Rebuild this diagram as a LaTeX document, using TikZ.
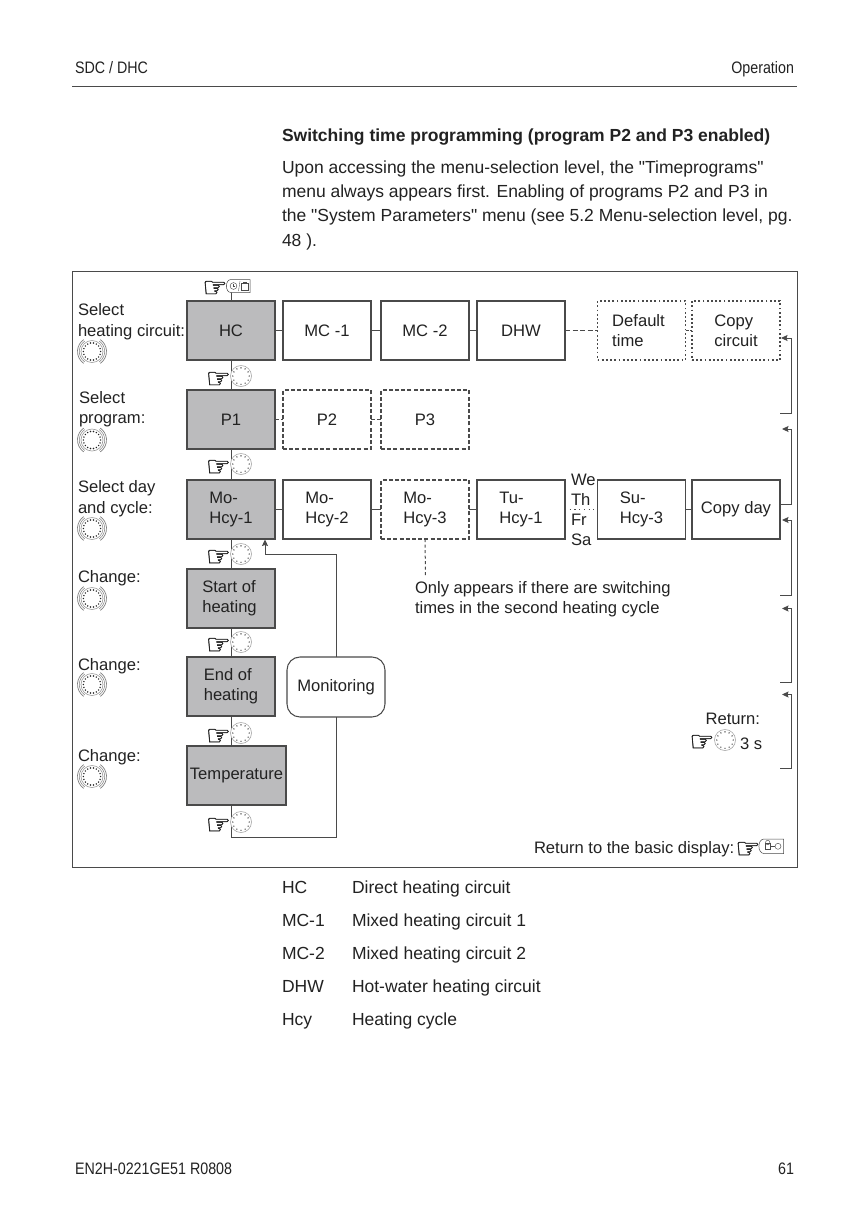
\documentclass[tikz,border=0pt]{standalone}
\usepackage{fontspec}
\setmainfont{Liberation Sans}
\newfontfamily\plainf{Liberation Sans}
\newcommand{\qq}{{\plainf"}}
\newfontfamily\narrowf[FakeStretch=0.86]{Liberation Sans}
\newfontfamily\handf[FakeBold=1.2]{DejaVu Sans}
\usetikzlibrary{arrows.meta}
\definecolor{ink}{HTML}{222222}
\definecolor{lin}{HTML}{4A4A4A}
\definecolor{boxgrey}{HTML}{BBBBBD}
\tikzset{
  base/.style={font=\fontsize{16.6}{20}\selectfont,text=ink,inner sep=0pt,outer sep=0pt},
  txt/.style={base,anchor=base west},
  body/.style={txt,font=\fontsize{17.5}{24}\selectfont},
  head/.style={txt,font=\narrowf\fontsize{16.6}{20}\selectfont},
  menubox/.style={base,draw=lin,line width=1.05pt,fill=white,minimum width=88pt,minimum height=59pt,align=left},
  greybox/.style={menubox,fill=boxgrey},
  dashbox/.style={menubox,dash pattern=on 4pt off 2.2pt},
  dotbox/.style={menubox,dash pattern=on 1.8pt off 2.4pt},
  link/.style={draw=lin,line width=1pt},
  back/.style={draw=lin,line width=1pt,-{Stealth[length=6.5pt,width=6pt,inset=1pt]}},
  handmark/.style={inner sep=0pt,outer sep=0pt,fill=white,text=ink,font=\handf\fontsize{28}{28}\selectfont},
  dialknob/.pic={
    \fill[white] (0,0) circle (10.5);
    \draw[gray!70,line width=.6pt] (0,0) circle (10.5);
    \foreach \a in {0,30,...,330} \fill[ink] (\a:8.2) circle (.7);
  },
  sideknob/.pic={
    \draw[gray!80,line width=.6pt] (0,0) circle (11);
    \foreach \a in {0,20,...,340} \fill[ink] (\a:8.6) circle (.8);
    \draw[gray,line width=.7pt] (125:14.5) arc (125:235:14.5);
    \draw[gray,line width=.7pt] (55:14.5) arc (55:-55:14.5);
    \draw[gray,line width=.5pt] (125:12.7) arc (125:235:12.7);
    \draw[gray,line width=.5pt] (55:12.7) arc (55:-55:12.7);
  },
}
\begin{document}
\begin{tikzpicture}[x=1pt,y=-1pt]
\useasboundingbox (0,0) rectangle (868,1227);
\fill[white] (0,0) rectangle (868,1227);
% page head / foot
\node[head] (h1) at (75,73) {SDC / DHC};
\node[head,anchor=base east] (h2) at (794,73) {Operation};
\coordinate (ruleL) at (72,86.5); \coordinate (ruleR) at (797,86.5);
\draw[draw=lin,line width=.8pt] (ruleL) -- (ruleR);
\node[head] (f1) at (75,1174) {EN2H-0221GE51 R0808};
\node[head,anchor=base east] (f2) at (794,1174) {61};
% intro
\node[body,font=\bfseries\fontsize{17.5}{24}\selectfont] (title) at (282,141) {Switching time programming (program P2 and P3 enabled)};
\node[body] (p1) at (282,173) {Upon accessing the menu-selection level, the \qq Timeprograms\qq};
\node[body] (p2) at (282,197) {menu always appears first. Enabling of programs P2 and P3 in};
\node[body] (p3) at (282,221) {the \qq System Parameters\qq\ menu (see 5.2 Menu-selection level, pg.};
\node[body] (p4) at (282,246) {48 ).};
% frame
\draw[draw=lin,line width=1pt] (72,271.5) rectangle (797,867.5);
% row 1
\node[greybox] (HC) at (231,330.5) {HC};
\node[menubox] (MC1) at (327,330.5) {MC -1};
\node[menubox] (MC2) at (425,330.5) {MC -2};
\node[menubox] (DHW) at (521,330.5) {DHW};
\node[dotbox] (DT) at (641.5,330.5) {\hspace*{-6pt}Default\\\hspace*{-6pt}time};
\node[dotbox] (CC) at (736,330.5) {Copy\\circuit};
% row 2
\node[greybox] (P1) at (231,419.5) {P1};
\node[dashbox] (P2) at (327,419.5) {P2};
\node[dashbox] (P3) at (425,419.5) {P3};
% row 3
\node[greybox] (M1) at (231,509.5) {Mo-\\Hcy-1};
\node[menubox] (M2) at (327,509.5) {Mo-\\Hcy-2};
\node[dashbox] (M3) at (425,509.5) {Mo-\\Hcy-3};
\node[menubox] (T1) at (521,509.5) {Tu-\\Hcy-1};
\node[menubox] (S3) at (641.5,509.5) {Su-\\Hcy-3};
\node[menubox] (CD) at (736,509.5) {Copy day};
% column
\node[greybox] (SH) at (231,598.5) {\hspace*{-3pt}Start of\\\hspace*{-3pt}heating};
\node[greybox] (EH) at (231,686.5) {End of\\heating};
\node[greybox,minimum width=99pt] (TE) at (236.5,775.5) {Temperature};
\node[menubox,rounded corners=13pt,minimum width=98pt,minimum height=60pt] (MON) at (336,687) {Monitoring};
% coordinates
\coordinate (top) at (231,290);
\coordinate (loop1) at (231,837); \coordinate (loop2) at (336,837);
\coordinate (mon1) at (336,554); \coordinate (mon2) at (265,554); \coordinate (mon3) at (265,539.5);
\coordinate (note) at (425.5,576);
\coordinate (teN) at (231,746); \coordinate (teS) at (231,805);
% connectors
\draw[link] (top) -- (HC.north);
\draw[link] (HC.south) -- (P1.north);
\draw[link] (P1.south) -- (M1.north);
\draw[link] (M1.south) -- (SH.north);
\draw[link] (SH.south) -- (EH.north);
\draw[link] (EH.south) -- (teN);
\draw[link] (teS) -- (loop1) -- (loop2) -- (MON.south);
\draw[back] (MON.north) -- (mon1) -- (mon2) -- (mon3);
\draw[link] (HC.east) -- (MC1.west);
\draw[link] (MC1.east) -- (MC2.west);
\draw[link] (MC2.east) -- (DHW.west);
\draw[link,line width=1.2pt,dash pattern=on 5pt off 2.5pt] (DHW.east) -- (DT.west);
\draw[link,dash pattern=on 3pt off 1.5pt] (DT.east) -- (CC.west);
\draw[link,dash pattern=on 4pt off 2pt] (P1.east) -- (P2.west);
\draw[link,dash pattern=on 4pt off 2pt] (P2.east) -- (P3.west);
\draw[link] (M1.east) -- (M2.west);
\draw[link] (M2.east) -- (M3.west);
\draw[link] (M3.east) -- (T1.west);
\draw[link,dash pattern=on 1.2pt off 3.5pt] (T1.east) -- (S3.west);
\draw[link] (S3.east) -- (CD.west);
\draw[link,dash pattern=on 3pt off 2.5pt] (M3.south) -- (note);
% return brackets
\coordinate (a1) at (780,413); \coordinate (a2) at (791,413); \coordinate (a3) at (791,338); \coordinate (a4) at (781,338);
\coordinate (b1) at (780,504); \coordinate (b2) at (791,504); \coordinate (b3) at (791,429); \coordinate (b4) at (782,429);
\coordinate (c1) at (780,595); \coordinate (c2) at (791,595); \coordinate (c3) at (791,520); \coordinate (c4) at (782,520);
\coordinate (d1) at (780,682); \coordinate (d2) at (791,682); \coordinate (d3) at (791,608.5); \coordinate (d4) at (782,608.5);
\coordinate (e1) at (780,768); \coordinate (e2) at (791,768); \coordinate (e3) at (791,694.5); \coordinate (e4) at (782,694.5);
\draw[back] (a1) -- (a2) -- (a3) -- (a4);
\draw[back] (b1) -- (b2) -- (b3) -- (b4);
\draw[back] (c1) -- (c2) -- (c3) -- (c4);
\draw[back] (d1) -- (d2) -- (d3) -- (d4);
\draw[back] (e1) -- (e2) -- (e3) -- (e4);
% weekdays
\node[txt] (we) at (571,485) {We};
\node[txt] (th) at (571,505) {Th};
\node[txt] (fr) at (571,525) {Fr};
\node[txt] (sa) at (571,545) {Sa};
% left labels
\node[txt] (l1a) at (78,315.5) {Select};
\node[txt] (l1b) at (78,336) {heating circuit:};
\node[txt] (l2a) at (79,403) {Select};
\node[txt] (l2b) at (79,423.5) {program:};
\node[txt] (l3a) at (78,492.5) {Select day};
\node[txt] (l3b) at (78,513) {and cycle:};
\node[txt] (l4) at (78,582) {Change:};
\node[txt] (l5) at (78,670) {Change:};
\node[txt] (l6) at (78,761) {Change:};
\pic at (92,351.5) {sideknob};
\pic at (92,440) {sideknob};
\pic at (92,528.5) {sideknob};
\pic at (92,598.5) {sideknob};
\pic at (92,684.5) {sideknob};
\pic at (92,776.5) {sideknob};
% hands and dials
\foreach \n/\y/\hy in {a/376/380,b/464/468,c/554/558,d/642/646,e/733/737,f/822/826}{
  \node[handmark] (hand\n) at (218.5,\hy) {☞};
  \pic at (241,\y) {dialknob};
}
% top key
\node[handmark] (handt) at (215,289) {☞};
\fill[white,draw=lin,line width=.5pt] (250,279.5) -- (231,279.5) to[out=180,in=180,looseness=1.2] (231,292.5) -- (250,292.5) -- cycle;
\draw[lin,line width=.45pt] (233.5,286) circle (3.4);
\draw[lin,line width=.35pt] (233.5,284) -- (233.5,286) -- (235,286);
\draw[lin,line width=.35pt] (238.5,291) -- (240,281);
\draw[lin,line width=.45pt] (241.5,283.5) rectangle (248.5,290);
\draw[lin,line width=.35pt] (243.5,283.5) -- (243.5,282) -- (246.5,282) -- (246.5,283.5);
% note
\node[txt] (n1) at (415,593) {Only appears if there are switching};
\node[txt] (n2) at (415,613) {times in the second heating cycle};
% return
\node[txt,anchor=base east] (ret) at (760,724) {Return:};
\node[handmark] (handr) at (702,743) {☞};
\pic at (725,740) {dialknob};
\node[txt] (sec) at (740,749) {3 s};
\node[txt] (rb) at (534,853) {Return to the basic display:};
\node[handmark] (handb) at (748,850) {☞};
\fill[white,draw=lin,line width=.5pt] (783.5,839) -- (764,839) to[out=180,in=180,looseness=1.2] (764,853.5) -- (783.5,853.5) -- cycle;
\draw[lin,line width=.45pt] (765,843.5) rectangle (770.5,849);
\draw[lin,line width=.45pt] (767.7,842.5) circle (2.2);
\draw[lin,line width=.45pt] (770.5,846.3) -- (775,846.3);
\draw[lin,line width=.45pt] (778,846.3) circle (3);
% legend
\foreach \n/\y/\k/\v in {a/893/HC/Direct heating circuit,b/926/MC-1/Mixed heating circuit 1,c/959/MC-2/Mixed heating circuit 2,d/992/DHW/Hot-water heating circuit,e/1025/Hcy/Heating cycle}{
  \node[body] (k\n) at (282,\y) {\k};
  \node[body] (v\n) at (352,\y) {\v};
}
\end{tikzpicture}
\end{document}
